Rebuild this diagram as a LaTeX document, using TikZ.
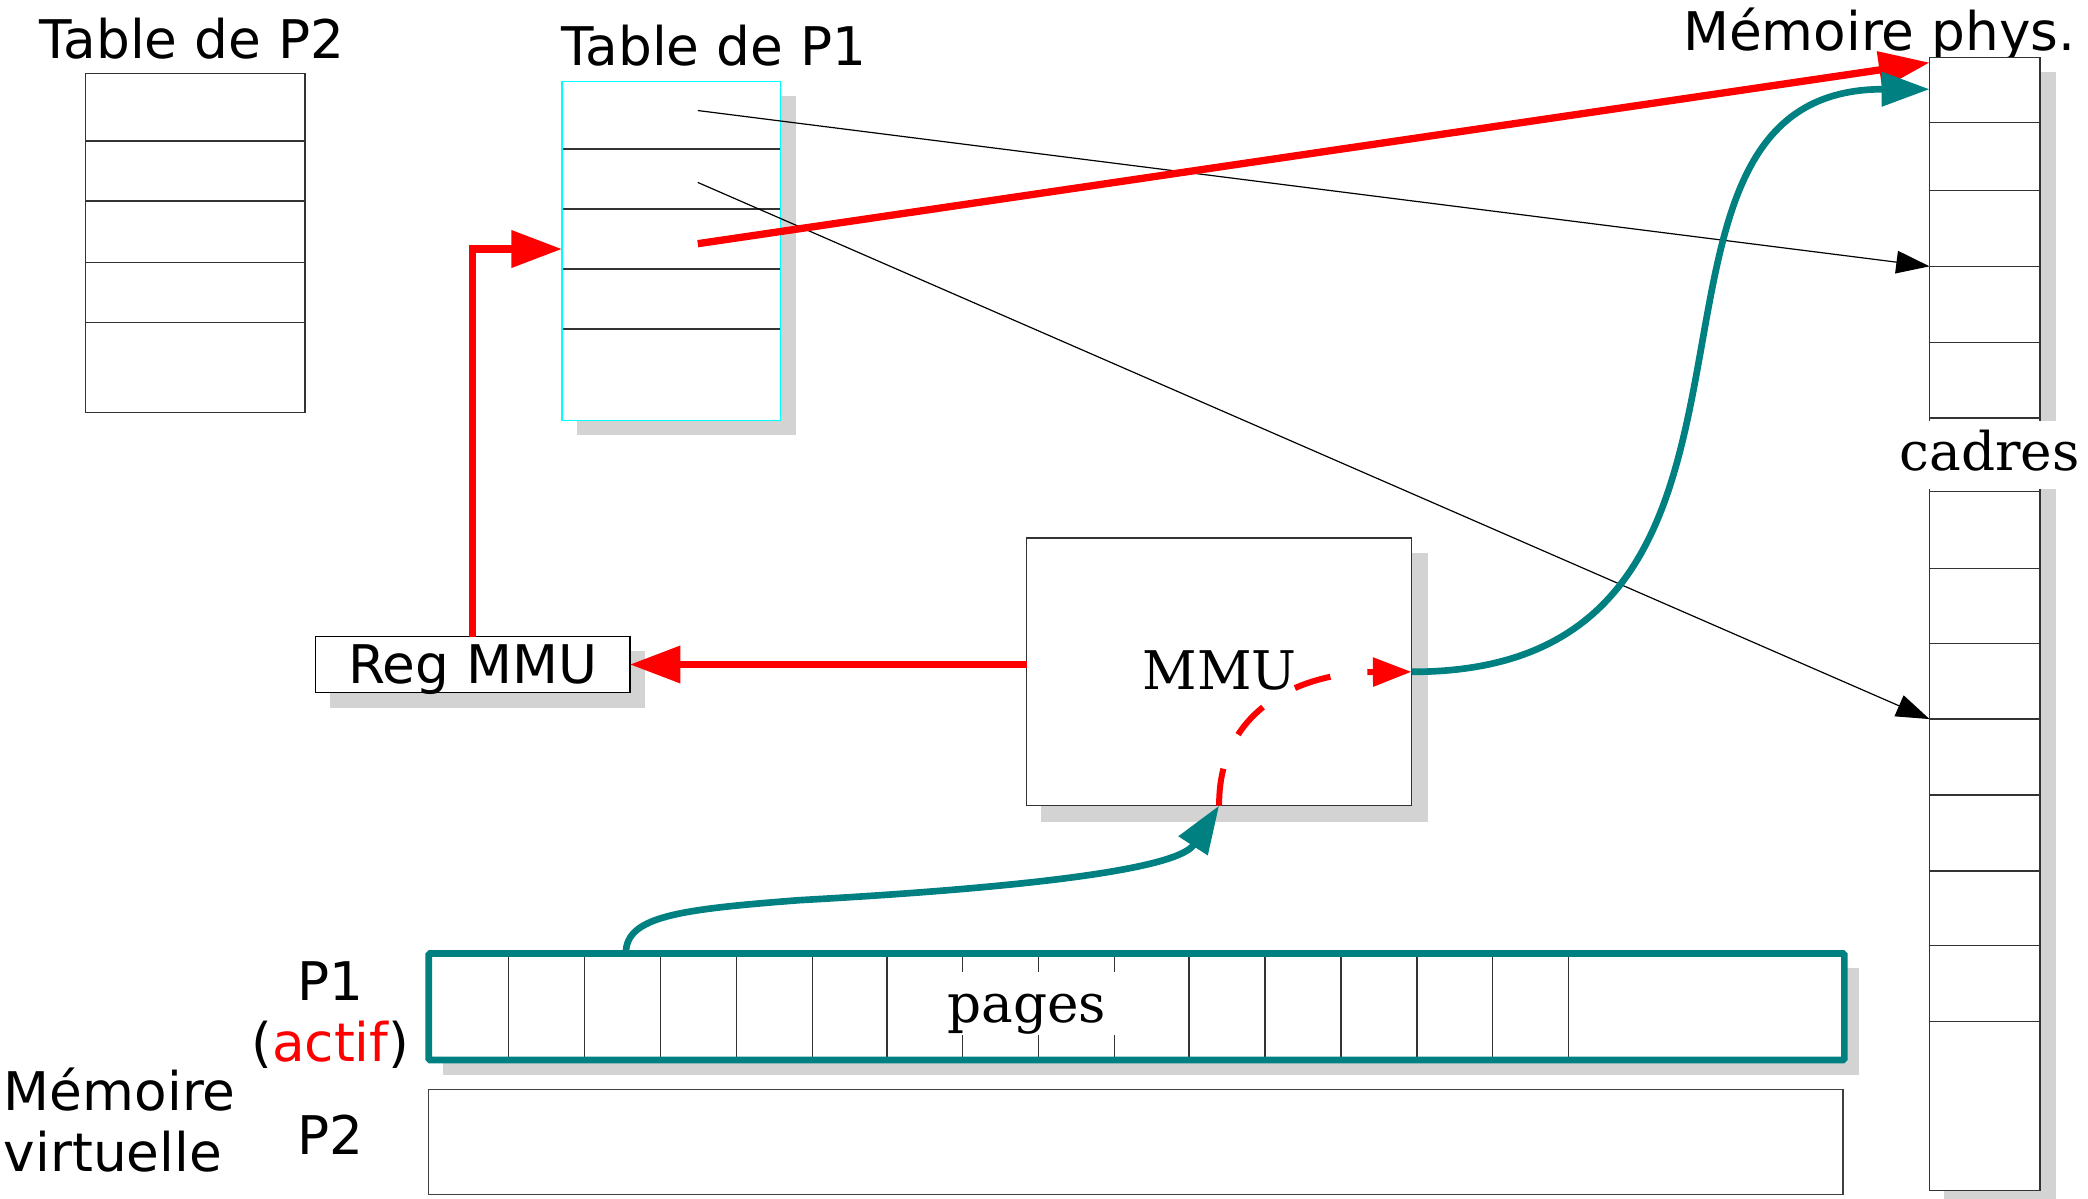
\documentclass[tikz,border=0pt]{standalone}
\usepackage{fontspec}
\setmainfont{DejaVu Serif}
\setsansfont{DejaVu Sans}
\usetikzlibrary{arrows.meta}
\definecolor{tealc}{RGB}{0,128,128}
\definecolor{cyanc}{RGB}{0,255,255}
\definecolor{shade}{RGB}{211,211,211}
\begin{document}
\begin{tikzpicture}[x=1pt,y=-1pt,
  every node/.style={inner sep=0pt, outer sep=0pt},
  lab/.style={font=\sffamily\fontsize{40}{48}\selectfont},
  slab/.style={font=\rmfamily\fontsize{40}{48}\selectfont},
  boxed/.style={draw=black!80, line width=1pt, fill=white, rectangle, anchor=north west},
  cellline/.style={draw=black!80, line width=1pt},
  shadowbox/.style={fill=shade, draw=none},
  thinarrow/.style={draw=black, line width=0.9pt, -{Triangle[length=25pt,width=17pt]}},
  redarrow/.style={draw=red, line width=5.5pt, -{Triangle[length=38pt,width=27pt]}},
  tealarrow/.style={draw=tealc, line width=5pt, -{Triangle[length=36pt,width=25pt]}},
  dasharrow/.style={draw=red, line width=4.5pt, dash pattern=on 28pt off 28pt, -{Triangle[length=29pt,width=21pt]}},
]
\useasboundingbox (0,0) rectangle (1568,900);

% ---- page table of P2
\node[lab, anchor=base west] (tp2lab) at (30,44) {Table de P2};
\node[boxed, minimum width=165pt, minimum height=255pt] (tp2) at (64,55) {};
\foreach \y in {106,151,197,242} \draw[cellline] (64,\y) -- (229,\y);

% ---- page table of P1
\node[lab, anchor=base west] (tp1lab) at (422,49) {Table de P1};
\fill[shadowbox] (433,72) rectangle (598,327);
\node[boxed, draw=cyanc, minimum width=164pt, minimum height=255pt] (tp1) at (422,61) {};
\foreach \y in {112,157,202,247} \draw[cellline] (422.5,\y) -- (585.5,\y);
\coordinate (e1) at (524,83);
\coordinate (e2) at (524,137);
\coordinate (e3) at (524,183);
\coordinate (tin) at (422,187);

% ---- physical memory frames
\node[lab, anchor=base west] (physlab) at (1264,38) {Mémoire phys.};
\fill[shadowbox] (1460,54) rectangle (1544,905);
\node[boxed, minimum width=83pt, minimum height=851pt] (phys) at (1449,43) {};
\foreach \y in {92,143,200,257,314,369,427,483,540,597,654,710,767}
  \draw[cellline] (1449,\y) -- (1532,\y);
\node[slab, anchor=base, fill=white, text height=37pt, text depth=14pt,
      minimum width=138pt] (cadres) at (1494,353) {cadres};
\coordinate (pA) at (1449,47);
\coordinate (pB) at (1449,67);
\coordinate (pC) at (1449,200);
\coordinate (pD) at (1449,540);

% ---- MMU and its register
\fill[shadowbox] (782,415) rectangle (1072,617);
\node[boxed, minimum width=289pt, minimum height=201pt] (mmu) at (771,404) {};
\node[slab, anchor=base] (mmulab) at (916,518) {MMU};

\fill[shadowbox] (248,489) rectangle (484,532);
\node[boxed, draw=black, minimum width=236pt, minimum height=42pt] (reg) at (237,478) {};
\node[lab, anchor=base] (reglab) at (355,513) {Reg MMU};

% ---- virtual memory
\fill[shadowbox] (333,727) rectangle (1396,807);
\node[boxed, draw=none, minimum width=1063pt, minimum height=80pt] (vp1) at (322,716) {};
\foreach \x in {382,439,496,553,610,666,723,780,837,893,950,1007,1064,1121,1178}
  \draw[cellline] (\x,716) -- (\x,796);
\node[slab, anchor=base, fill=white, text height=38pt, text depth=9pt,
      minimum width=150pt] (pages) at (771,768) {pages};
\draw[tealc, line width=5pt, rounded corners=1pt] (vp1.north west) rectangle (vp1.south east);
\coordinate (vsrc) at (470,716);

\node[boxed, draw=black!75, minimum width=1062pt, minimum height=79pt] (vp2) at (322,818) {};

\node[lab, anchor=base] (p1lab) at (248,751) {P1};
\node[lab, anchor=base] (actlab) at (248,797) {(\textcolor{red}{actif})};
\node[lab, anchor=base] (p2lab) at (248,867) {P2};
\node[lab, anchor=base west] (vm1) at (3,834) {Mémoire};
\node[lab, anchor=base west] (vm2) at (3,880) {virtuelle};

% ---- translations
\draw[thinarrow] (e1) -- (pC);
\draw[thinarrow] (e2) -- (pD);
\draw[redarrow] (e3) -- (pA);
\draw[redarrow] (reg.north) |- (tin);
\draw[redarrow] (mmu.west |- reg.east) -- (reg.east);
\draw[tealarrow] (mmu.east) .. controls (1380,505) and (1190,67) .. (pB);
\draw[tealarrow] (vsrc) .. controls (470,688) and (510,683) .. (600,676)
  .. controls (780,666) and (885,652) .. (mmu.south);
\draw[dasharrow] (mmu.south) .. controls (915,530) and (980,505) .. (mmu.east);
\end{tikzpicture}
\end{document}
